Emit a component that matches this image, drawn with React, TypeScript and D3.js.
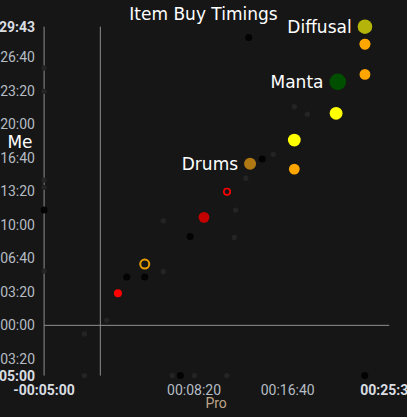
import React from "react";
import * as d3 from "d3";

// ---- data ----
const pointKinds = [
  "faint","faint","faint","faint","faint","faint","faint","faint","faint","faint",
  "faint","faint","faint","faint","faint","faint","faint","faint","faint",
  "black","black","black","black","black","black","black","black",
  "red","ringOrange","darkRed","ringRed","drums","orange","yellow","yellow","orange","manta","orange","orange","diffusal",
];
const proTimes = [
  -85, -85, 34, 336, 384, 502, 675, 1035, 1105, 923,
  776, 722, 336, 715, -300, -300, -300, -300, -300,
  792, 1411, 427, -300, 141, 237, 479, 864,
  94, 237, 553, 676, 799, 1035, 1035, 1258, 1412, 1267, 1412, 1412, 1412,
];
const myTimes = [
  -300, -52, 30, 320, -300, -300, -300, 1305, 1261, 1021,
  878, 688, 624, 525, 1536, 1397, 867, 824, 324,
  1719, -300, -300, 688, 288, 288, 531, 993,
  191, 366, 645, 798, 965, 933, 1106, 1266, 1498, 1454, 1679, 1679, 1783,
];
const pointLabels = [
  "","","","","","","","","","",
  "","","","","","","","","",
  "","","","","","","","",
  "","","","","Drums","","","","","Manta","","","Diffusal",
];
const xTickValues = [500, 1000];
const yTickValues = [-200, 0, 200, 400, 600, 800, 1000, 1200, 1400, 1600];
const xDomain = [-300, 1536];
const yDomain = [-300, 1783];
const title = "Item Buy Timings";
const xTitle = "Pro";
const yTitle = "Me";

// ---- styles ----
const kindStyle: Record<string, { fill: string; r: number; stroke?: string; sw?: number }> = {
  faint: { fill: "#242424", r: 2.7 },
  black: { fill: "#030303", r: 3.5 },
  red: { fill: "#ff0000", r: 4 },
  ringOrange: { fill: "none", r: 4.5, stroke: "#e89e00", sw: 2 },
  ringRed: { fill: "none", r: 3.2, stroke: "#ff0000", sw: 1.6 },
  darkRed: { fill: "#c40000", r: 5.4 },
  drums: { fill: "#b07812", r: 6 },
  orange: { fill: "#ffa500", r: 5.4 },
  yellow: { fill: "#ffff00", r: 6.4 },
  manta: { fill: "#004f00", r: 8.3 },
  diffusal: { fill: "#b4b40a", r: 7.3 },
};

function fmt(s: number) {
  const sign = s < 0 ? "-" : "";
  const a = Math.abs(Math.round(s));
  const h = Math.floor(a / 3600);
  const m = Math.floor((a % 3600) / 60);
  const sec = a % 60;
  const p = (n: number) => String(n).padStart(2, "0");
  return `${sign}${p(h)}:${p(m)}:${p(sec)}`;
}

export default function App() {
  const W = 407, H = 417;
  const x = d3.scaleLinear().domain(xDomain).range([44.1, 388.2]);
  const y = d3.scaleLinear().domain(yDomain).range([375.6, 26.7]);
  const tickFont = "Roboto, sans-serif";
  const labelFont = "'DejaVu Sans', sans-serif";
  const lineColor = "#8e8e8e";
  const idx = d3.range(proTimes.length);

  return (
    <svg
      width={W}
      height={H}
      style={{ position: "absolute", left: 0, top: 0, background: "#161616", display: "block" }}
    >
      <rect x={0} y={0} width={W} height={H} fill="#161616" />
      {/* title */}
      <text x={W / 2} y={20} textAnchor="middle" fill="#ffffff" fontFamily={labelFont} fontSize={17}>
        {title}
      </text>
      {/* grid / axis lines */}
      <line x1={x(xDomain[0])} x2={x(xDomain[0])} y1={y(yDomain[1])} y2={y(yDomain[0])} stroke={lineColor} strokeWidth={1} />
      <line x1={x(0)} x2={x(0)} y1={y(yDomain[1])} y2={y(yDomain[0])} stroke={lineColor} strokeWidth={1} />
      <line x1={x(xDomain[0])} x2={x(xDomain[1]) + 1} y1={y(0)} y2={y(0)} stroke={lineColor} strokeWidth={1} />

      {/* y tick labels */}
      {yTickValues.map((v) => (
        <text key={"y" + v} x={35} y={y(v)} dy="0.36em" textAnchor="end" fill="#b5bcc4" fontFamily={tickFont} fontSize={14}>
          {fmt(v)}
        </text>
      ))}
      {yDomain.map((v) => (
        <text key={"yb" + v} x={35} y={y(v)} dy="0.36em" textAnchor="end" fill="#d9dde2" fontFamily={tickFont} fontSize={14} fontWeight="bold">
          {fmt(v)}
        </text>
      ))}
      {/* x tick labels */}
      {xTickValues.map((v) => (
        <text key={"x" + v} x={x(v)} y={395} textAnchor="middle" fill="#b5bcc4" fontFamily={tickFont} fontSize={14}>
          {fmt(v)}
        </text>
      ))}
      {xDomain.map((v) => (
        <text key={"xb" + v} x={x(v)} y={395} textAnchor="middle" fill="#d9dde2" fontFamily={tickFont} fontSize={14} fontWeight="bold">
          {fmt(v)}
        </text>
      ))}
      {/* axis titles */}
      <text x={(x(xDomain[0]) + x(xDomain[1])) / 2} y={408} textAnchor="middle" fill="#bfa588" fontFamily={tickFont} fontSize={14}>
        {xTitle}
      </text>
      <text x={20} y={148} textAnchor="middle" fill="#ffffff" fontFamily={labelFont} fontSize={17}>
        {yTitle}
      </text>

      {/* points */}
      {idx.map((i) => {
        const st = kindStyle[pointKinds[i]];
        return (
          <circle
            key={"p" + i}
            cx={x(proTimes[i])}
            cy={y(myTimes[i])}
            r={st.r}
            fill={st.fill}
            stroke={st.stroke || "none"}
            strokeWidth={st.sw || 0}
          />
        );
      })}
      {/* point labels */}
      {idx
        .filter((i) => pointLabels[i])
        .map((i) => {
          const st = kindStyle[pointKinds[i]];
          return (
            <text
              key={"l" + i}
              x={x(proTimes[i]) - st.r - 6}
              y={y(myTimes[i]) + 6.3}
              textAnchor="end"
              fill="#ffffff"
              fontFamily={labelFont}
              fontSize={17}
            >
              {pointLabels[i]}
            </text>
          );
        })}
    </svg>
  );
}
